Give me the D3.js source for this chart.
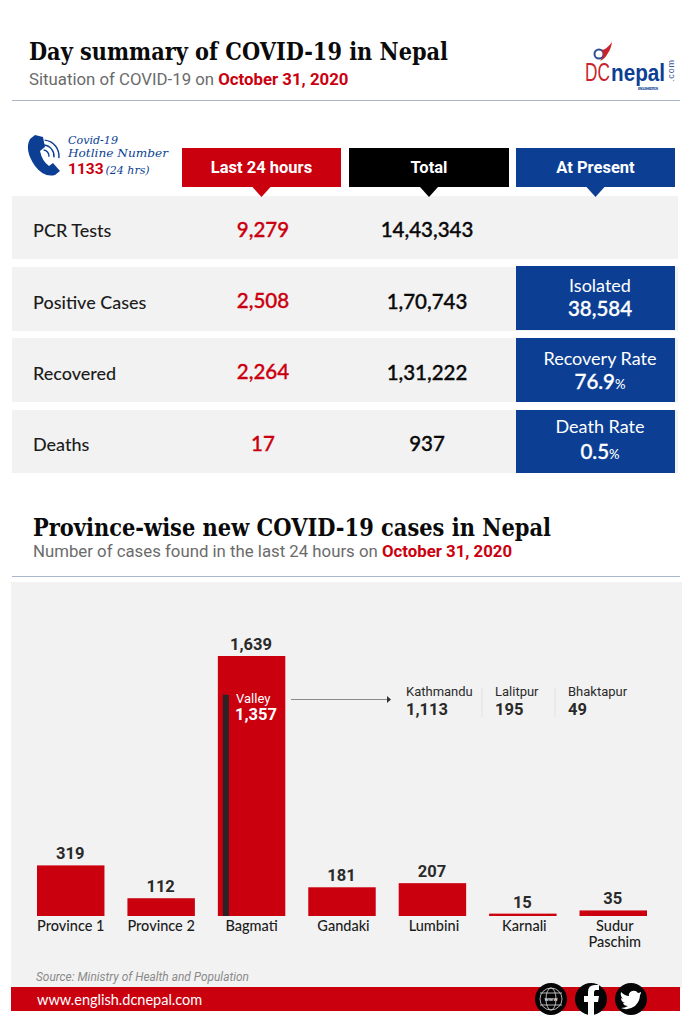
<!DOCTYPE html>
<html lang="en">
  <head>
    <meta charset="UTF-8" />
    <title>Day summary of COVID-19 in Nepal</title>
    <script src="https://d3js.org/d3.v7.min.js"></script>
    <style>
      html, body { margin: 0; padding: 0; background: #fff; }
      svg { display: block; }
    </style>
  </head>
  <body>
    <script>
      // summary table
      const rowNames = ["PCR Tests", "Positive Cases", "Recovered", "Deaths"];
      const last24 = ["9,279", "2,508", "2,264", "17"];
      const totals = ["14,43,343", "1,70,743", "1,31,222", "937"];
      const presentLabels = [null, "Isolated", "Recovery Rate", "Death Rate"];
      const presentValues = [null, "38,584", "76.9", "0.5"];
      const presentUnits = [null, "", "%", "%"];
      const headers = ["Last 24 hours", "Total", "At Present"];

      // province chart
      const provinces = ["Province 1", "Province 2", "Bagmati", "Gandaki", "Lumbini", "Karnali", "Sudur Paschim"];
      const newCases = [319, 112, 1639, 181, 207, 15, 35];
      const valleyCases = 1357;
      const valleyMarkHeight = 1395; // the dark bar in the picture stands a bit taller than its label
      const valleyDistricts = ["Kathmandu", "Lalitpur", "Bhaktapur"];
      const valleyDistrictCases = ["1,113", "195", "49"];

      const RED = "#cb000f";
      const BLUE = "#0c3f94";
      const serif = "'DejaVu Serif', serif";

      const svg = d3.select("body").append("svg").attr("width", 694).attr("height", 1024);

      function label(x, y, str, size, fill, family, weight, anchor) {
        return svg
          .append("text")
          .attr("x", x)
          .attr("y", y)
          .attr("font-size", size)
          .attr("fill", fill)
          .attr("font-family", family)
          .attr("font-weight", weight || 400)
          .attr("text-anchor", anchor || "start")
          .text(str);
      }

      // numbers in the table are a little heavier than Lato regular
      function heavy(sel, color) {
        return sel.attr("stroke", color).attr("stroke-width", 0.35);
      }

      // Heading block
      label(29, 60, "Day summary of COVID-19 in Nepal", 24, "#0a0a0a", serif, 700).attr("textLength", 419).attr("lengthAdjust", "spacingAndGlyphs");
      const sub1 = label(29, 85, "Situation of COVID-19 on ", 16.8, "#6b6b6b", "Roboto");
      sub1.append("tspan").attr("fill", RED).attr("font-weight", 700).text("October 31, 2020");
      svg.append("line").attr("x1", 12).attr("x2", 680).attr("y1", 100.5).attr("y2", 100.5).attr("stroke", "#a9b6c8");

      // Logo
      label(0, 0, "DC", 26.5, "#c8232c", "'Liberation Sans'", 400).attr("transform", "translate(585,81) scale(0.65,1)");
      label(611, 81, "nepal", 23, BLUE, "'Liberation Sans'", 700).attr("textLength", 54).attr("lengthAdjust", "spacingAndGlyphs");
      label(0, 0, ".com", 9, "#3a5a9a", "'Liberation Sans'").attr("transform", "translate(674,82) rotate(-90)").attr("textLength", 22);
      label(638, 90, "ENGLISH EDITION", 3.2, BLUE, "'Liberation Sans'", 700).attr("textLength", 20);
      svg.append("circle").attr("cx", 599).attr("cy", 54).attr("r", 4.5).attr("fill", "#fff").attr("stroke", "#2c4f94").attr("stroke-width", 2);
      svg.append("path").attr("d", "M602 50 Q607 49 612 42 Q611 49 608 53 Q605 59 600 61 Q605 56 602 50Z").attr("fill", "#c8232c");

      // Hotline
      svg
        .append("path")
        .attr("d", "M35 135 L43 137 L45 147 L40 151 Q42 161 49 166 L53 163 L60 171 L55 175 Q44 178 35 166 Q24 150 30 139 Z")
        .attr("fill", BLUE);
      [6, 11, 16].forEach((r) => {
        svg
          .append("path")
          .attr("d", d3.arc()({ innerRadius: r - 0.7, outerRadius: r + 0.7, startAngle: 0.1, endAngle: 1.7 }))
          .attr("transform", "translate(43,156)")
          .attr("fill", BLUE);
      });
      label(68, 144, "Covid-19", 11.5, BLUE, serif).attr("font-style", "italic").attr("textLength", 50).attr("lengthAdjust", "spacingAndGlyphs");
      label(68, 157, "Hotline Number", 11.5, BLUE, serif).attr("font-style", "italic").attr("textLength", 100).attr("lengthAdjust", "spacingAndGlyphs");
      const hot = label(68, 174, "1133", 15.5, RED, "Roboto", 700);
      hot.append("tspan").attr("font-family", serif).attr("font-style", "italic").attr("font-weight", 400).attr("font-size", 11).attr("fill", BLUE).attr("dx", 2).text("(24 hrs)");

      // Table
      const rowTop = [196, 267, 338, 410];
      const rowBottom = [259, 331, 402, 473];
      const headX = [182, 349, 516];
      const headW = [159, 160, 159];
      const headFill = [RED, "#000000", BLUE];
      const presentLabelY = [0, 292, 365, 433];
      const presentValueY = [0, 316, 389, 459];

      svg
        .append("g")
        .selectAll("rect")
        .data(rowNames)
        .join("rect")
        .attr("x", 12)
        .attr("width", 666)
        .attr("y", (d, i) => rowTop[i])
        .attr("height", (d, i) => rowBottom[i] - rowTop[i])
        .attr("fill", "#f2f2f2");

      headers.forEach((h, i) => {
        const cx = headX[i] + headW[i] / 2;
        svg.append("rect").attr("x", headX[i]).attr("y", 148).attr("width", headW[i]).attr("height", 39).attr("fill", headFill[i]);
        svg.append("path").attr("d", `M${cx - 9} 187 L${cx + 9} 187 L${cx} 197 Z`).attr("fill", headFill[i]);
        label(cx, 173, h, 16.5, "#fff", "Roboto", 700, "middle");
      });

      rowNames.forEach((name, i) => {
        const mid = (rowTop[i] + rowBottom[i]) / 2;
        label(33, mid + 9.5, name, 18, "#1c1c1c", "Lato", 500);
        heavy(label(263, mid + 9, last24[i], 20.5, RED, "Lato", 500, "middle"), RED);
        heavy(label(427, mid + 9.5, totals[i], 20.5, "#0a0a0a", "Lato", 500, "middle"), "#0a0a0a");
        if (presentLabels[i]) {
          svg.append("rect").attr("x", 516).attr("width", 159).attr("y", rowTop[i] - (i === 1 ? 1 : 0)).attr("height", rowBottom[i] - rowTop[i]).attr("fill", BLUE);
          label(600, presentLabelY[i], presentLabels[i], 18, "#fff", "Lato", 400, "middle");
          const v = label(600, presentValueY[i], presentValues[i], 20.5, "#fff", "Lato", 500, "middle");
          heavy(v, "#fff");
          v.append("tspan").attr("font-size", 13).attr("stroke", "none").text(presentUnits[i]);
        }
      });

      // Second heading
      label(33, 536, "Province-wise new COVID-19 cases in Nepal", 24, "#0a0a0a", serif, 700).attr("textLength", 518).attr("lengthAdjust", "spacingAndGlyphs");
      const sub2 = label(33, 557, "Number of cases found in the last 24 hours on ", 16.8, "#6b6b6b", "Roboto");
      sub2.append("tspan").attr("fill", RED).attr("font-weight", 700).text("October 31, 2020");
      svg.append("line").attr("x1", 12).attr("x2", 680).attr("y1", 576.5).attr("y2", 576.5).attr("stroke", "#a9b6c8");

      // Chart panel
      svg.append("rect").attr("x", 11).attr("y", 582).attr("width", 671).attr("height", 406).attr("fill", "#f2f2f2");

      const x = d3.scaleBand().domain(provinces).range([37, 647]).paddingInner(0.254).paddingOuter(0);
      const y = d3.scaleLinear().domain([0, 1639]).range([916, 656]);

      svg
        .append("g")
        .selectAll("rect")
        .data(provinces)
        .join("rect")
        .attr("x", (d) => x(d))
        .attr("width", x.bandwidth())
        .attr("y", (d, i) => y(newCases[i]))
        .attr("height", (d, i) => y(0) - y(newCases[i]))
        .attr("fill", RED);

      svg
        .append("g")
        .selectAll("text")
        .data(provinces)
        .join("text")
        .attr("x", (d) => x(d) + x.bandwidth() / 2 - 0.5)
        .attr("y", (d, i) => y(newCases[i]) - 6)
        .attr("text-anchor", "middle")
        .attr("font-family", "Roboto")
        .attr("font-weight", 700)
        .attr("font-size", 16.5)
        .attr("fill", "#2a2a2a")
        .text((d, i) => d3.format(",")(newCases[i]));

      // category labels, the last one wraps on two lines
      provinces.forEach((p, i) => {
        const cx = x(p) + x.bandwidth() / 2 + (i > 2 ? 1.5 : 0);
        const lines = p === "Sudur Paschim" ? p.split(" ") : [p];
        lines.forEach((l, j) => label(cx, 931 + j * 16, l, 14.5, "#1c1c1c", "Lato", 500, "middle"));
      });

      // Valley detail
      svg
        .append("rect")
        .attr("x", x("Bagmati") + 5)
        .attr("width", 6)
        .attr("y", y(valleyMarkHeight))
        .attr("height", y(0) - y(valleyMarkHeight))
        .attr("fill", "#2b2226");
      label(236, 703, "Valley", 13, "#fff", "Roboto");
      label(235, 720, d3.format(",")(valleyCases), 16.5, "#fff", "Roboto", 700);

      svg.append("line").attr("x1", 291).attr("x2", 390).attr("y1", 699.5).attr("y2", 699.5).attr("stroke", "#8a8a8a");
      svg.append("path").attr("d", "M387 696 L391 699.5 L387 703 Z").attr("fill", "#333");

      const districtX = [406, 495, 568];
      valleyDistricts.forEach((d, i) => {
        label(districtX[i], 696, d, 13, "#2a2a2a", "Roboto");
        label(districtX[i], 715, valleyDistrictCases[i], 16.5, "#2a2a2a", "Roboto", 700);
      });
      [482, 555].forEach((sx) => {
        svg.append("line").attr("x1", sx).attr("x2", sx).attr("y1", 688).attr("y2", 717).attr("stroke", "#e2e2e2");
      });

      // Footer
      label(36, 981, "Source: Ministry of Health and Population", 11.9, "#8a8a8a", "Roboto").attr("font-style", "italic");
      svg.append("rect").attr("x", 11).attr("y", 987).attr("width", 669).attr("height", 24).attr("fill", RED);
      label(37, 1005, "www.english.dcnepal.com", 14.5, "#fff", "Lato");

      const iconX = [551, 591, 631];
      iconX.forEach((cx) => {
        svg.append("circle").attr("cx", cx).attr("cy", 999).attr("r", 16).attr("fill", "#050505");
      });
      // globe
      const globe = svg.append("g").attr("fill", "none").attr("stroke", "#ddd").attr("stroke-width", 0.8);
      globe.append("circle").attr("cx", 551).attr("cy", 999).attr("r", 11);
      globe.append("ellipse").attr("cx", 551).attr("cy", 999).attr("rx", 5).attr("ry", 11);
      globe.append("line").attr("x1", 540).attr("x2", 562).attr("y1", 993).attr("y2", 993);
      globe.append("line").attr("x1", 540).attr("x2", 562).attr("y1", 1005).attr("y2", 1005);
      label(551, 1001, "www", 6, "#ddd", "Roboto", 700, "middle");
      // facebook
      svg.append("path").attr("d", "M588 1015 V1002 H584 V996 H588 V992 Q588 985 595 985 H599 V990 H596 Q594 990 594 993 V996 H599 L598 1002 H594 V1015 Z").attr("fill", "#fff");
      // twitter
      svg
        .append("path")
        .attr("d", "M641 992 Q639 993 638 993 Q636 990 632 991 Q628 993 629 996 Q625 996 621 992 Q620 996 623 999 L621 998 Q621 1002 625 1003 L623 1003 Q624 1006 628 1006 Q625 1008 621 1008 Q628 1011 635 1006 Q640 1001 640 995 Q641 994 641 992 Z")
        .attr("fill", "#fff");
    </script>
  </body>
</html>
